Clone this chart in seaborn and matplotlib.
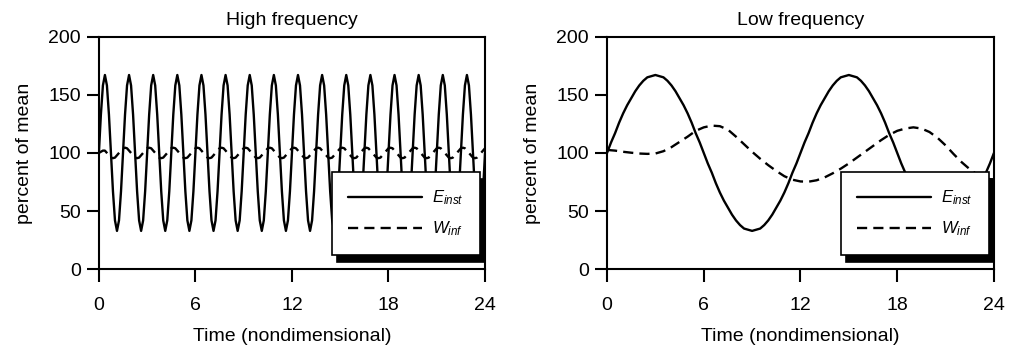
import numpy as np
import matplotlib
matplotlib.use("Agg")
import matplotlib.pyplot as plt
from matplotlib.patches import Shadow
import seaborn as sns

# ---- data ----
# high frequency panel, sampled every 0.125 time units (one cycle per row)
t_high = np.arange(0, 24.0001, 0.125)
e_high = [
    100, 133, 158, 167, 158, 133, 100, 67, 42, 33, 42, 67,
    100, 133, 158, 167, 158, 133, 100, 67, 42, 33, 42, 67,
    100, 133, 158, 167, 158, 133, 100, 67, 42, 33, 42, 67,
    100, 133, 158, 167, 158, 133, 100, 67, 42, 33, 42, 67,
    100, 133, 158, 167, 158, 133, 100, 67, 42, 33, 42, 67,
    100, 133, 158, 167, 158, 133, 100, 67, 42, 33, 42, 67,
    100, 133, 158, 167, 158, 133, 100, 67, 42, 33, 42, 67,
    100, 133, 158, 167, 158, 133, 100, 67, 42, 33, 42, 67,
    100, 133, 158, 167, 158, 133, 100, 67, 42, 33, 42, 67,
    100, 133, 158, 167, 158, 133, 100, 67, 42, 33, 42, 67,
    100, 133, 158, 167, 158, 133, 100, 67, 42, 33, 42, 67,
    100, 133, 158, 167, 158, 133, 100, 67, 42, 33, 42, 67,
    100, 133, 158, 167, 158, 133, 100, 67, 42, 33, 42, 67,
    100, 133, 158, 167, 158, 133, 100, 67, 42, 33, 42, 67,
    100, 133, 158, 167, 158, 133, 100, 67, 42, 33, 42, 67,
    100, 133, 158, 167, 158, 133, 100, 67, 42, 33, 42, 67,
    100,
]
w_high = [
    100, 101, 102, 102, 100, 98, 96, 95.5, 96, 98, 100, 102,
    104, 104.5, 104, 102, 100, 98, 96, 95.5, 96, 98, 100, 102,
    104, 104.5, 104, 102, 100, 98, 96, 95.5, 96, 98, 100, 102,
    104, 104.5, 104, 102, 100, 98, 96, 95.5, 96, 98, 100, 102,
    104, 104.5, 104, 102, 100, 98, 96, 95.5, 96, 98, 100, 102,
    104, 104.5, 104, 102, 100, 98, 96, 95.5, 96, 98, 100, 102,
    104, 104.5, 104, 102, 100, 98, 96, 95.5, 96, 98, 100, 102,
    104, 104.5, 104, 102, 100, 98, 96, 95.5, 96, 98, 100, 102,
    104, 104.5, 104, 102, 100, 98, 96, 95.5, 96, 98, 100, 102,
    104, 104.5, 104, 102, 100, 98, 96, 95.5, 96, 98, 100, 102,
    104, 104.5, 104, 102, 100, 98, 96, 95.5, 96, 98, 100, 102,
    104, 104.5, 104, 102, 100, 98, 96, 95.5, 96, 98, 100, 102,
    104, 104.5, 104, 102, 100, 98, 96, 95.5, 96, 98, 100, 102,
    104, 104.5, 104, 102, 100, 98, 96, 95.5, 96, 98, 100, 102,
    104, 104.5, 104, 102, 100, 98, 96, 95.5, 96, 98, 100, 102,
    104, 104.5, 104, 102, 100, 98, 96, 95.5, 96, 98, 100, 102,
    104,
]

# low frequency panel: E sampled every 0.25, W every 0.5 time units
t_low_e = np.arange(0, 24.0001, 0.25)
e_low = [
    100, 109, 117, 126, 134, 141, 147, 153, 158, 162, 165, 166,
    167, 166, 165, 162, 158, 153, 147, 141, 134, 126, 117, 109,
    100, 91, 83, 74, 66, 59, 53, 47, 42, 38, 35, 34,
    33, 34, 35, 38, 42, 47, 53, 59, 66, 74, 83, 91,
    100, 109, 117, 126, 134, 141, 147, 153, 158, 162, 165, 166,
    167, 166, 165, 162, 158, 153, 147, 141, 134, 126, 117, 109,
    100, 91, 83, 74, 66, 59, 53, 47, 42, 38, 35, 34,
    33, 34, 35, 38, 42, 47, 53, 59, 66, 74, 83, 91,
    100,
]
t_low_w = np.arange(0, 24.0001, 0.5)
w_low = [
    102.6, 102, 101, 100.2, 99.5, 99.2, 99.5, 101.5, 105, 109.5, 114, 119,
    122, 123.5, 123, 120, 114, 107.5, 101, 95, 89.5, 84.5, 80, 77,
    75.5, 75.3, 76.5, 79, 82.5, 86.5, 91, 96, 101, 106, 111, 115.5,
    119, 121, 122, 121, 118, 113, 106.5, 99, 92, 86, 81, 78,
    77,
]

panel_titles = ["High frequency", "Low frequency"]
legend_labels = [r"$E_{inst}$", r"$W_{inf}$"]
x_ticks = [0, 6, 12, 18, 24]
y_ticks = [0, 50, 100, 150, 200]

sns.set_style("ticks")
plt.rcParams["font.family"] = ["Liberation Sans", "DejaVu Sans"]
plt.rcParams["text.color"] = "black"
plt.rcParams["axes.labelcolor"] = "black"
plt.rcParams["axes.titlecolor"] = "black"
plt.rcParams["mathtext.fontset"] = "custom"
plt.rcParams["mathtext.rm"] = "Liberation Sans"
plt.rcParams["mathtext.it"] = "Liberation Sans:italic"

fig = plt.figure(figsize=(10.09, 3.52), dpi=100)
ax1 = fig.add_axes([0.098, 0.235, 0.3827, 0.661])
ax2 = fig.add_axes([0.6016, 0.235, 0.3835, 0.661])

panels = [
    (ax1, t_high, e_high, t_high, w_high),
    (ax2, t_low_e, e_low, t_low_w, w_low),
]
legends = []
for (ax, te, e, tw, w), title in zip(panels, panel_titles):
    sns.lineplot(x=te, y=e, ax=ax, color="black", lw=1.7)
    sns.lineplot(x=tw, y=w, ax=ax, color="black", lw=1.7,
                 linestyle=(0, (4.3, 2.6)))
    ax.set_xlim(0, 24)
    ax.set_ylim(0, 200)
    ax.set_xticks(x_ticks)
    ax.set_yticks(y_ticks)
    ax.set_title(title, fontsize=14, pad=8, color="black")
    ax.set_xlabel("Time (nondimensional)", fontsize=14, labelpad=10,
                  color="black")
    ax.set_ylabel("percent of mean", fontsize=14, labelpad=11,
                  color="black")
    ax.tick_params(direction="out", length=9, width=1.5, labelsize=14,
                   color="black", labelcolor="black")
    ax.tick_params(axis="x", pad=11)
    ax.tick_params(axis="y", pad=4)
    for sp in ax.spines.values():
        sp.set_visible(True)
        sp.set_linewidth(1.5)
        sp.set_color("black")

    leg = ax.legend(handles=ax.lines[:2], labels=legend_labels,
                    loc="lower right", bbox_to_anchor=(0.987, 0.061),
                    borderaxespad=0, fancybox=False, framealpha=1,
                    edgecolor="black", fontsize=12, handlelength=4.4,
                    handletextpad=0.6, labelspacing=0.75, borderpad=1.0)
    leg.get_frame().set_linewidth(1.2)
    for txt in leg.get_texts():
        txt.set_color("black")
    legends.append((ax, leg))

# the legend has a solid black drop shadow
fig.canvas.draw()
for ax, leg in legends:
    sh = Shadow(leg.legendPatch, 3.6, -5, facecolor="black",
                edgecolor="black", alpha=1)
    sh.set_zorder(4.5)
    ax.add_artist(sh)

fig.savefig("out.png", dpi=100)
